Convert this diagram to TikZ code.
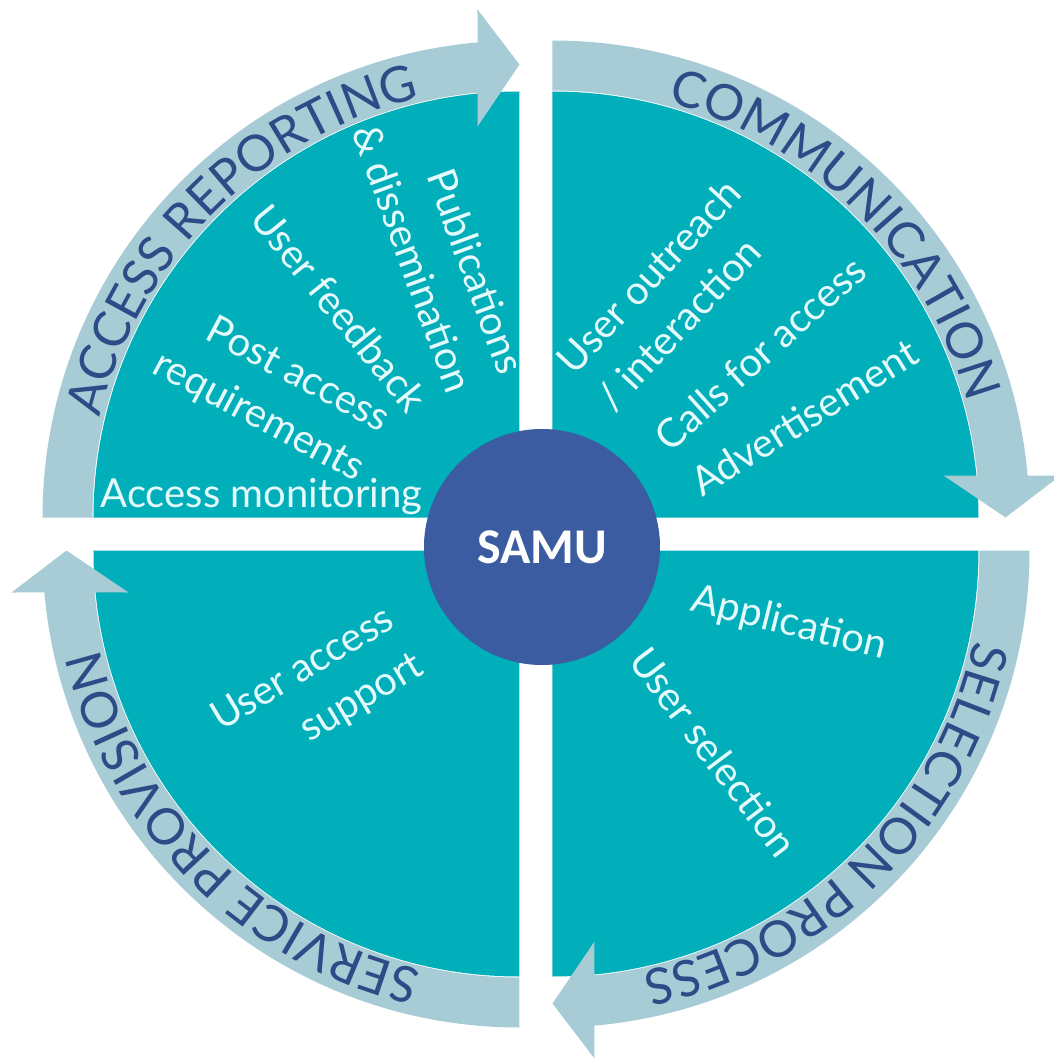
\documentclass[tikz,border=0pt]{standalone}
\usepackage{fontspec}
\setmainfont{Lato}
\newfontfamily\samufont{Carlito}
\usetikzlibrary{decorations.text}
\definecolor{tealfill}{RGB}{0,175,185}
\definecolor{bandblue}{RGB}{168,204,214}
\definecolor{samublue}{RGB}{59,92,160}
\definecolor{titleblue}{RGB}{45,75,135}
\definecolor{itemwhite}{RGB}{228,250,252}
\newcommand\ttlfont{\fontsize{50}{50}\selectfont}
\newcommand\itemfont{\fontsize{40}{55}\selectfont}

\begin{document}
\begin{tikzpicture}[x=1pt,y=1pt,
  item/.style={text=itemwhite, font=\itemfont, inner sep=0pt},
  ringtext/.style={decorate, decoration={text along path, text align=center, text color=titleblue, text={|\ttlfont|#1}}}]
\useasboundingbox (-536,-527) rectangle (517,534);
\foreach \k in {0,1,2,3}{
  \begin{scope}[rotate=-90*\k, shift={(-16.5,16.5)}]
    \fill[tealfill] (0,0) -- (180:426) arc[start angle=180, end angle=90, radius=426] -- cycle;
    \fill[bandblue] (180:477) arc[start angle=180, end angle=95.05, radius=477] -- (-42,508) -- (0,453) -- (-42,391) -- (95.64:427) arc[start angle=95.64, end angle=180, radius=427] -- cycle;
  \end{scope}
}
\path[ringtext={ACCESS REPORTING}] (-16.5,16.5) ++(180:431) arc[start angle=180, end angle=90, radius=431];
\path[ringtext={COMMUNICATION}] (16.5,16.5) ++(90:431) arc[start angle=90, end angle=0, radius=431];
\path[ringtext={SELECTION PROCESS}] (16.5,-16.5) ++(0:431) arc[start angle=0, end angle=-90, radius=431];
\path[ringtext={SERVICE PROVISION}] (-16.5,-16.5) ++(-90:431) arc[start angle=-90, end angle=-180, radius=431];

\node[item, anchor=base] (monitoring) at (-274.5,27) {Access monitoring};
\node[item, rotate=-28, align=right] (postaccess) at (-265,141) {Post access\\requirements};
\node[item, rotate=-51] (feedback) at (-197,226) {User feedback};
\node[item, rotate=-70, align=right] (publications) at (-97,285) {Publications\\\& dissemination};
\node[item, rotate=47, align=left] (outreach) at (133,239) {User outreach\\/ interaction};
\node[item, rotate=42] (calls) at (224,181) {Calls for access};
\node[item, rotate=32] (advert) at (268,117) {Advertisement};
\node[item, rotate=-14] (application) at (253,-90) {Application};
\node[item, rotate=-53] (selection) at (178,-218) {User selection};
\node[item, rotate=31, align=left] (support) at (-218,-159) {User access\\\hspace*{70pt}support};
\node[circle, fill=samublue, minimum size=236pt, inner sep=0pt, text=white, font=\samufont\bfseries\fontsize{50}{50}\selectfont] (samu) at (6,-13) {SAMU};
\end{tikzpicture}
\end{document}
